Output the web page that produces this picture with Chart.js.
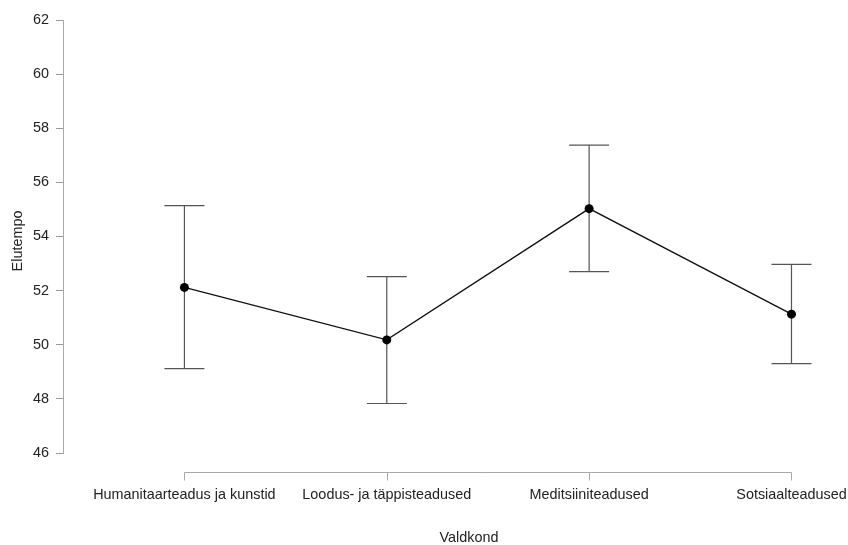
<!DOCTYPE html>
<html>
<head>
<meta charset="utf-8">
<script src="https://cdn.jsdelivr.net/npm/chart.js@4.4.1/dist/chart.umd.min.js"></script>
<style>
html, body { margin: 0; padding: 0; background: #fff; }
#wrap { width: 848px; height: 545px; }
</style>
</head>
<body>
<div id="wrap"><canvas id="migrafica"></canvas></div>
<script>
let categories = ['Humanitaarteadus ja kunstid', 'Loodus- ja täppisteadused', 'Meditsiiniteadused', 'Sotsiaalteadused'];
let means = [52.12, 50.18, 55.03, 51.13];
let lower = [49.12, 47.83, 52.70, 49.30];
let upper = [55.14, 52.52, 57.38, 52.97];
let yTicks = [46, 48, 50, 52, 54, 56, 58, 60, 62];
let xTitle = 'Valdkond';
let yTitle = 'Elutempo';

const fontFam = '"Liberation Sans", Arial, sans-serif';

// error bars + R-style x axis drawn with the chart's own scales
const errorBars = {
  id: 'errorBars',
  beforeDatasetsDraw(chart) {
    const ctx = chart.ctx;
    const x = chart.scales.x, y = chart.scales.y;
    ctx.save();
    ctx.strokeStyle = '#555';
    ctx.lineWidth = 1.2;
    means.forEach((m, i) => {
      const px = x.getPixelForValue(i);
      const top = y.getPixelForValue(upper[i]);
      const bot = y.getPixelForValue(lower[i]);
      ctx.beginPath();
      ctx.moveTo(px, top); ctx.lineTo(px, bot);
      ctx.moveTo(px - 20, top); ctx.lineTo(px + 20, top);
      ctx.moveTo(px - 20, bot); ctx.lineTo(px + 20, bot);
      ctx.stroke();
    });
    ctx.restore();
  },
  afterDraw(chart) {
    const ctx = chart.ctx;
    const x = chart.scales.x;
    const area = chart.chartArea;
    const ay = area.bottom + 19.5;
    ctx.save();
    ctx.strokeStyle = '#aaa';
    ctx.lineWidth = 1;
    ctx.beginPath();
    ctx.moveTo(x.getPixelForValue(0), ay);
    ctx.lineTo(x.getPixelForValue(categories.length - 1), ay);
    categories.forEach((c, i) => {
      const px = Math.round(x.getPixelForValue(i)) + 0.5;
      ctx.moveTo(px, ay);
      ctx.lineTo(px, ay + 8);
    });
    ctx.stroke();

    ctx.fillStyle = '#222';
    ctx.font = '14.4px ' + fontFam;
    ctx.textAlign = 'center';
    ctx.textBaseline = 'middle';
    ctx.fillText(xTitle, 469, 538);
    ctx.translate(18, 241);
    ctx.rotate(-Math.PI / 2);
    ctx.fillText(yTitle, 0, 0);
    ctx.restore();
  }
};

const graf = document.getElementById('migrafica').getContext('2d');
const migrafica = new Chart(graf, {
  type: 'line',
  data: {
    datasets: [{
      label: yTitle,
      data: means.map((v, i) => ({ x: i, y: v })),
      borderColor: '#111',
      borderWidth: 1.3,
      backgroundColor: '#000',
      pointRadius: 4.5,
      pointBorderWidth: 0,
      pointBackgroundColor: '#000',
      tension: 0
    }]
  },
  options: {
    responsive: true,
    maintainAspectRatio: false,
    animation: false,
    layout: { padding: { top: 20, right: 0, bottom: 0, left: 0 } },
    plugins: { legend: { display: false }, tooltip: { enabled: false } },
    scales: {
      x: {
        type: 'linear',
        min: -0.6,
        max: 3.257,
        afterBuildTicks: (s) => { s.ticks = categories.map((c, i) => ({ value: i })); },
        afterFit: (s) => { s.height = 92; s.paddingLeft = 0; s.paddingRight = 0; },
        ticks: {
          callback: (v) => categories[v],
          autoSkip: false,
          maxRotation: 0,
          padding: 33,
          color: '#222',
          font: { family: fontFam, size: 14.4 }
        },
        grid: { display: false, drawTicks: false },
        border: { display: false }
      },
      y: {
        min: 46,
        max: 62,
        afterBuildTicks: (s) => { s.ticks = yTicks.map(v => ({ value: v })); },
        afterFit: (s) => { s.width = 63; },
        ticks: {
          padding: 7,
          color: '#222',
          font: { family: fontFam, size: 14.4 }
        },
        grid: { drawOnChartArea: false, drawTicks: true, tickLength: 7, color: '#999' },
        border: { display: true, color: '#aaa' }
      }
    }
  },
  plugins: [errorBars]
});
</script>
</body>
</html>
